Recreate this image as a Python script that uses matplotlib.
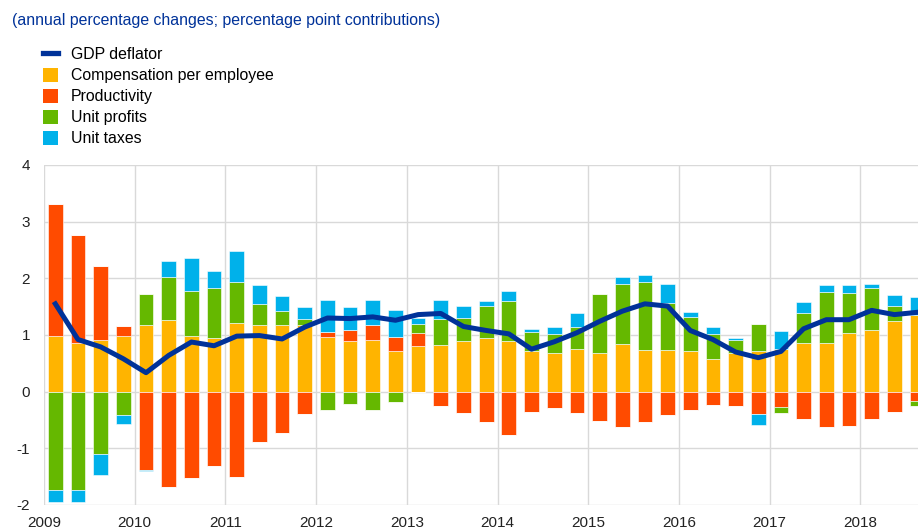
import numpy as np
import matplotlib
matplotlib.use("Agg")
import matplotlib.pyplot as plt
from matplotlib.patches import Patch
from matplotlib.lines import Line2D

plt.rcParams['font.family'] = ['Liberation Sans', 'DejaVu Sans']
plt.rcParams['axes.unicode_minus'] = False

# quarterly data, 2009Q1 - 2018Q3
quarters = np.arange(39)
comp = [0.98, 0.86, 0.92, 0.98, 1.17, 1.27, 0.98, 0.95, 1.22, 1.17, 1.17, 1.17,
        0.96, 0.89, 0.91, 0.71, 0.80, 0.82, 0.89, 0.94, 0.89, 0.71, 0.68, 0.76,
        0.69, 0.835, 0.74, 0.73, 0.71, 0.58, 0.68, 0.71, 0.75, 0.865, 0.865, 1.03,
        1.08, 1.24, 1.35]
prod = [2.33, 1.90, 1.30, 0.18, -1.38, -1.69, -1.52, -1.31, -1.51, -0.89, -0.735, -0.39,
        0.09, 0.20, 0.26, 0.25, 0.24, -0.25, -0.37, -0.535, -0.77, -0.36, -0.28, -0.38,
        -0.52, -0.62, -0.535, -0.42, -0.32, -0.23, -0.25, -0.40, -0.265, -0.48, -0.62, -0.61,
        -0.48, -0.35, -0.17]
profits = [-1.74, -1.735, -1.106, -0.406, 0.55, 0.75, 0.80, 0.88, 0.72, 0.38, 0.26, 0.11,
           -0.32, -0.22, -0.32, -0.18, 0.15, 0.46, 0.41, 0.58, 0.71, 0.35, 0.34, 0.39,
           1.03, 1.07, 1.19, 0.835, 0.61, 0.43, 0.24, 0.49, -0.105, 0.53, 0.89, 0.71,
           0.75, 0.28, -0.09]
taxes = [-0.20, -0.22, -0.37, -0.165, -0.02, 0.28, 0.58, 0.30, 0.54, 0.33, 0.25, 0.22,
         0.56, 0.40, 0.45, 0.48, 0.11, 0.33, 0.22, 0.08, 0.17, 0.05, 0.12, 0.23,
         0.0, 0.11, 0.135, 0.34, 0.08, 0.13, 0.02, -0.19, 0.32, 0.19, 0.13, 0.135,
         0.076, 0.18, 0.32]
gdp = [1.55, 0.92, 0.79, 0.58, 0.335, 0.64, 0.876, 0.81, 0.98, 0.99, 0.93, 1.14,
       1.30, 1.29, 1.32, 1.26, 1.36, 1.38, 1.15, 1.08, 1.02, 0.75, 0.88, 1.04,
       1.24, 1.42, 1.55, 1.51, 1.08, 0.92, 0.70, 0.60, 0.71, 1.11, 1.27, 1.27,
       1.435, 1.36, 1.40]
years = list(range(2009, 2019))

series = [("Compensation per employee", comp, "#FFB400"),
          ("Productivity", prod, "#FF4B00"),
          ("Unit profits", profits, "#65B800"),
          ("Unit taxes", taxes, "#00B1EA")]
line_col = "#003299"

x = 2009 + 0.125 + quarters * 0.25

fig = plt.figure(figsize=(9.18, 5.31), dpi=100)
ax = fig.add_axes([44 / 918, 1 - 505 / 531, 1 - 44 / 918, (505 - 165) / 531])

pos = np.zeros(len(x))
neg = np.zeros(len(x))
for name, vals, col in series:
    v = np.array(vals)
    p = np.where(v > 0, v, 0)
    n = np.where(v < 0, v, 0)
    ax.bar(x, p, bottom=pos, width=0.162, color=col, edgecolor='white', linewidth=0.4, zorder=2)
    ax.bar(x, n, bottom=neg, width=0.162, color=col, edgecolor='white', linewidth=0.4, zorder=2)
    pos += p
    neg += n

ax.plot(x, gdp, color=line_col, lw=3.6, zorder=3, solid_joinstyle='round')

ax.set_xlim(2009, 2009 + (918 - 44) / 90.7)
ax.set_ylim(-2, 4)
ax.set_yticks(range(-2, 5))
ax.set_xticks(years)
ax.set_xticklabels([str(y) for y in years])
ax.grid(True, color='#d9d9d9', lw=1, zorder=0)
ax.set_axisbelow(True)
for s in ax.spines.values():
    s.set_visible(False)
ax.tick_params(length=0, labelsize=11, pad=8, colors='#222222')
ax.tick_params(axis='y', pad=10)

fig.text(12 / 918, 1 - 21 / 531, "(annual percentage changes; percentage point contributions)",
         color=line_col, fontsize=11.4, va='center', ha='left')

handles = [Line2D([0], [0], color=line_col, lw=3.8)] + \
          [Patch(facecolor=c, edgecolor='none') for _, _, c in series]
labels = ["GDP deflator"] + [n for n, _, _ in series]
fig.legend(handles, labels, loc='upper left', bbox_to_anchor=(43 / 918, 1 - 47 / 531),
           frameon=False, fontsize=11.4, handlelength=0.95, handleheight=0.95,
           handletextpad=0.82, labelspacing=0.36, borderaxespad=0, borderpad=0)

fig.savefig("out.png", dpi=100)
